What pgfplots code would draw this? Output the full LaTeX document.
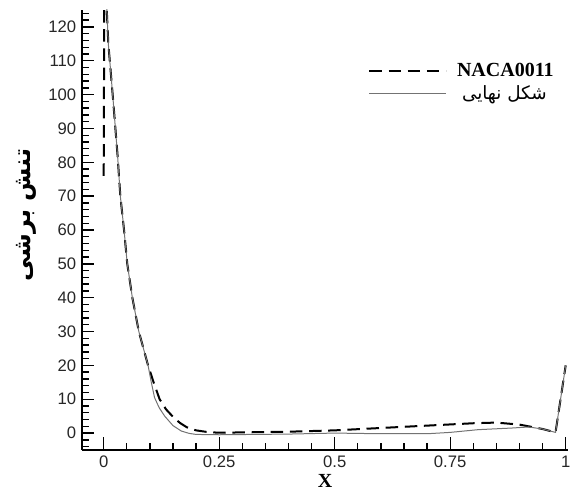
\documentclass[border=0pt]{standalone}
\usepackage{fontspec}
\usepackage{pgfplots}
\pgfplotsset{compat=1.18}
\setmainfont{Liberation Sans}
\newfontfamily\arabicfont[Script=Arabic]{DejaVu Sans}
\newfontfamily\serifb{Liberation Serif}
\TeXXeTstate=1
\begin{document}
\begin{tikzpicture}
\useasboundingbox (-49.2pt,-24pt) rectangle (294pt,270pt);
\begin{axis}[
  at={(0pt,0pt)}, anchor=south west,
  scale only axis,
  width=291.6pt, height=264pt,
  xmin=-0.047, xmax=1.005,
  ymin=-5, ymax=125,
  axis lines=left,
  axis line style={-, line width=1pt},
  tick align=inside,
  major tick length=7.5pt, minor tick length=4pt,
  every tick/.style={line width=0.8pt, black},
  xtick={0,0.25,0.5,0.75,1},
  xticklabels={0,0.25,0.5,0.75,1},
  minor xtick={0.05,0.1,0.15,0.2,0.3,0.35,0.4,0.45,0.55,0.6,0.65,0.7,0.8,0.85,0.9,0.95},
  ytick={0,10,...,120},
  minor ytick={-4,-2,...,124},
  /pgf/number format/assume math mode=true,
  tick label style={font=\fontsize{10}{11}\selectfont, text=black!85},
  xlabel={\serifb\bfseries\fontsize{12}{13}\selectfont X},
  xlabel style={at={(axis description cs:0.5,-0.07)}, anchor=center, inner sep=0pt},
  ylabel={\arabicfont\bfseries\fontsize{14.5}{17}\selectfont\beginR تنش برشی\endR},
  ylabel style={at={(axis description cs:-0.115,0.534)}, anchor=center},
  legend style={draw=none, fill=none, at={(rel axis cs:0.5885,0.836)}, anchor=west, inner sep=0pt, row sep=0pt},
  legend cell align=left,
  legend image code/.code={\draw[#1] (0pt,0pt) -- (46pt,0pt);},
]
\addplot[black, line width=1.2pt, dash pattern=on 7.5pt off 4pt] coordinates {
(0,76)(0.0015,140)(0.01,115)(0.02,99)(0.03,82)(0.036,70)(0.044,60)(0.051,50)(0.062,40)(0.076,30)(0.096,20)(0.108,15)(0.121,10)(0.135,7)(0.15,4.8)(0.165,3)(0.18,1.7)(0.2,0.8)(0.225,0.3)(0.25,0.1)(0.3,0.2)(0.4,0.4)(0.5,0.8)(0.6,1.5)(0.7,2.2)(0.8,2.9)(0.85,3.1)(0.9,2.5)(0.95,1.2)(0.978,0.2)(1.0,20)
};
\addlegendentry{\hspace{4pt}\serifb\bfseries\fontsize{12}{13}\selectfont NACA0011}
\addplot[black!55, line width=0.6pt] coordinates {
(0.002,140)(0.01,115)(0.02,99)(0.03,82)(0.036,70)(0.044,60)(0.051,50)(0.062,40)(0.076,30)(0.096,20)(0.103,15)(0.11,10.5)(0.12,7.5)(0.132,5)(0.15,2.2)(0.168,0.6)(0.185,-0.1)(0.2,-0.4)(0.25,-0.5)(0.4,-0.3)(0.5,0)(0.6,-0.2)(0.7,-0.2)(0.75,0.2)(0.81,1)(0.885,1.5)(0.92,1.8)(0.95,1.2)(0.978,0.2)(1.0,20)
};
\addlegendentry{\hspace{7pt}\arabicfont\fontsize{11}{12}\selectfont\beginR شکل نهایی\endR}
\end{axis}
\end{tikzpicture}
\end{document}
